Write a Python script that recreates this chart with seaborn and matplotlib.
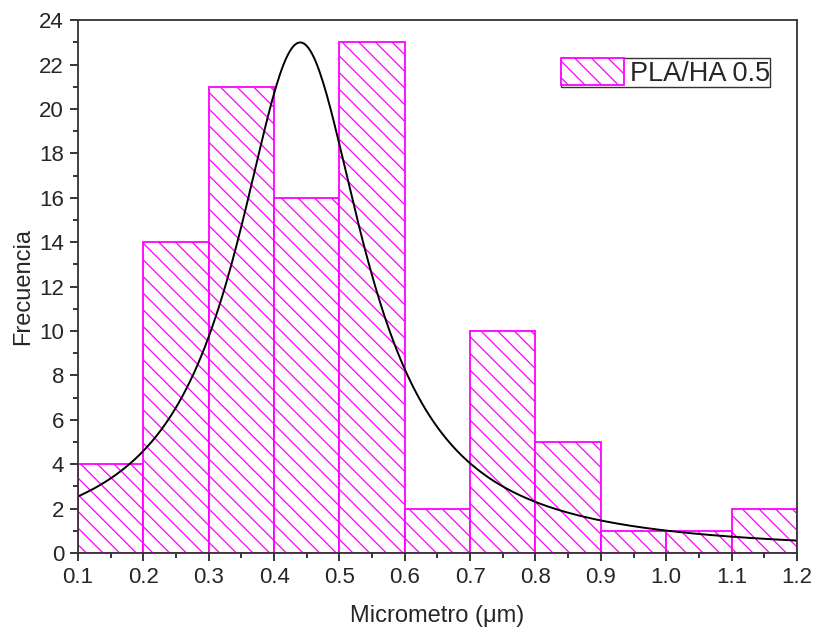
import numpy as np
import pandas as pd
import matplotlib
matplotlib.use('Agg')
import matplotlib.pyplot as plt
import seaborn as sns
from matplotlib.ticker import MultipleLocator, AutoMinorLocator

# histogram data
bin_edges = [0.1, 0.2, 0.3, 0.4, 0.5, 0.6, 0.7, 0.8, 0.9, 1.0, 1.1, 1.2]
counts = [4, 14, 21, 16, 23, 2, 10, 5, 1, 1, 2]

# Lorentzian fit parameters (estimated from the curve)
fit_xc = 0.44
fit_w = 0.24
fit_h = 23.0

sns.set_style('ticks')
plt.rcParams['font.family'] = ['Liberation Sans', 'DejaVu Sans']
plt.rcParams['hatch.linewidth'] = 0.9

df = pd.DataFrame({
    'x': [(a + b) / 2 for a, b in zip(bin_edges[:-1], bin_edges[1:])],
    'n': counts,
})

fig = plt.figure(figsize=(8.16, 6.32), dpi=100)
ax = fig.add_axes([0.0956, 0.125, 0.881, 0.843])

sns.histplot(data=df, x='x', weights='n', bins=bin_edges, ax=ax,
             color='#ff00ff', label='PLA/HA 0.5')
for p in ax.patches:
    p.set_facecolor('white')
    p.set_edgecolor('#ff00ff')
    p.set_hatch('\\\\')
    p.set_linewidth(1.3)
    p.set_alpha(1)

xs = np.linspace(0.1, 1.2, 400)
ys = fit_h / (1 + (2 * (xs - fit_xc) / fit_w) ** 2)
ax.plot(xs, ys, color='black', lw=1.4)

ax.set_xlim(0.1, 1.2)
ax.set_ylim(0, 24)
ax.xaxis.set_major_locator(MultipleLocator(0.1))
ax.yaxis.set_major_locator(MultipleLocator(2))
ax.xaxis.set_minor_locator(AutoMinorLocator(2))
ax.yaxis.set_minor_locator(AutoMinorLocator(2))
ax.tick_params(which='major', direction='out', length=6, width=1.3, labelsize=16, pad=4)
ax.tick_params(which='minor', direction='out', length=3.5, width=1.3)
ax.set_xticklabels(['%.1f' % v for v in ax.get_xticks()])
for s in ax.spines.values():
    s.set_linewidth(1.3)
    s.set_color('#333333')

ax.set_xlabel('Micrometro (\u03bcm)', fontsize=17, labelpad=12)
ax.set_ylabel('Frecuencia', fontsize=17, labelpad=4)

leg = ax.legend(loc='upper right', bbox_to_anchor=(0.9625, 0.929), fontsize=19.5,
                frameon=True, fancybox=False, handlelength=2.35, handleheight=1.15,
                handletextpad=0.2, borderpad=0.0, borderaxespad=0)
leg.get_frame().set_edgecolor('black')
leg.get_frame().set_linewidth(1.0)

fig.savefig('out.png', dpi=100)
